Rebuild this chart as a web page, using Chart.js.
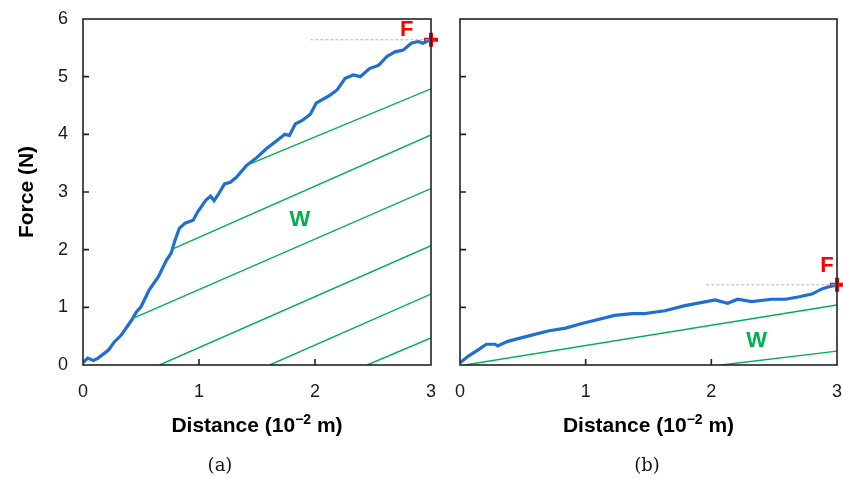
<!DOCTYPE html>
<html>
<head>
<meta charset="utf-8">
<script src="https://cdn.jsdelivr.net/npm/chart.js@4.4.1/dist/chart.umd.min.js"></script>
<style>
  body { margin: 0; background: #fff; }
  #wrap { position: relative; width: 843px; height: 479px; }
  #chartA { position: absolute; left: 0; top: 0; }
  #chartB { position: absolute; left: 440px; top: 0; }
</style>
</head>
<body>
<div id="wrap">
  <canvas id="chartA" width="440" height="479"></canvas>
  <canvas id="chartB" width="403" height="479"></canvas>
</div>
<script>
// panel (a): force vs distance
const distA = [0, 0.01, 0.04, 0.09, 0.13, 0.22, 0.27, 0.33, 0.42, 0.46, 0.50, 0.57, 0.65, 0.72, 0.76, 0.79, 0.83, 0.88, 0.92, 0.95, 0.99, 1.06, 1.10, 1.13, 1.17, 1.22, 1.27, 1.32, 1.41, 1.50, 1.58, 1.67, 1.74, 1.78, 1.83, 1.89, 1.96, 2.01, 2.13, 2.19, 2.26, 2.33, 2.39, 2.47, 2.55, 2.62, 2.69, 2.76, 2.83, 2.89, 2.93, 2.99];
const forceA = [0.04, 0.06, 0.12, 0.08, 0.12, 0.26, 0.40, 0.52, 0.78, 0.92, 1.01, 1.30, 1.53, 1.82, 1.94, 2.14, 2.37, 2.46, 2.49, 2.51, 2.66, 2.86, 2.93, 2.85, 2.97, 3.14, 3.17, 3.25, 3.46, 3.60, 3.75, 3.89, 4.00, 3.98, 4.18, 4.24, 4.35, 4.54, 4.68, 4.77, 4.97, 5.03, 5.00, 5.14, 5.20, 5.35, 5.43, 5.46, 5.58, 5.61, 5.58, 5.64];

// panel (b)
const distB = [0, 0.07, 0.15, 0.21, 0.28, 0.30, 0.38, 0.54, 0.70, 0.84, 0.97, 1.10, 1.23, 1.37, 1.47, 1.53, 1.63, 1.79, 1.96, 2.03, 2.13, 2.21, 2.32, 2.48, 2.59, 2.69, 2.80, 2.88, 2.94, 3.0];
const forceB = [0.04, 0.16, 0.27, 0.36, 0.36, 0.33, 0.41, 0.50, 0.59, 0.64, 0.72, 0.79, 0.86, 0.89, 0.89, 0.91, 0.94, 1.03, 1.10, 1.13, 1.07, 1.14, 1.10, 1.14, 1.14, 1.18, 1.23, 1.32, 1.36, 1.39];

// peak force F (x, y) and the dashed guide start
const peakA = [3.0, 5.64];
const peakB = [3.0, 1.39];
const guideStartA = 1.96;
const guideStartB = 1.96;

// hatch lines for the work area W: [x1, y1, x2, y2]
const hatchA = [
  [1.43, 3.48, 3.0, 4.79],
  [0.76, 2.00, 3.0, 3.99],
  [0.43, 0.81, 3.0, 3.06],
  [0.66, 0.00, 3.0, 2.07],
  [1.61, 0.00, 3.0, 1.23],
  [2.45, 0.00, 3.0, 0.47]
];
const hatchB = [
  [0.04, 0.00, 3.0, 1.04],
  [2.08, 0.00, 3.0, 0.24]
];

const xTicks = [0, 1, 2, 3];
const yTicks = [0, 1, 2, 3, 4, 5, 6];

const BLUE = '#1f6fd1';
const GREEN = '#00b050';
const RED = '#ff0000';

function toPoints(xs, ys) {
  return xs.map((x, i) => ({x: x, y: ys[i]}));
}

function buildDatasets(dist, force, hatch, peak, guideStart) {
  let sets = [];
  hatch.forEach(h => {
    sets.push({
      data: [{x: h[0], y: h[1]}, {x: h[2], y: h[3]}],
      borderColor: GREEN, borderWidth: 1.4, pointRadius: 0
    });
  });
  sets.push({
    data: [{x: guideStart, y: peak[1]}, {x: peak[0], y: peak[1]}],
    borderColor: '#b4b4b4', borderWidth: 1, borderDash: [3, 2], pointRadius: 0
  });
  sets.push({
    data: toPoints(dist, force),
    borderColor: BLUE, borderWidth: 3.2, pointRadius: 0, tension: 0
  });
  sets.push({
    data: [{x: peak[0], y: peak[1]}],
    showLine: false, pointStyle: 'cross', pointRadius: 7, clip: false,
    borderColor: RED, borderWidth: 4, backgroundColor: RED
  });
  return sets;
}

// frame + inward tick marks + F / W labels
const framePlugin = {
  id: 'frame',
  afterDraw(chart, args, opts) {
    const ctx = chart.ctx;
    const a = chart.chartArea;
    const xs = chart.scales.x, ys = chart.scales.y;
    ctx.save();
    ctx.strokeStyle = '#222';
    ctx.lineWidth = 1.6;
    ctx.strokeRect(a.left, a.top, a.right - a.left, a.bottom - a.top);
    ctx.beginPath();
    yTicks.slice(1, -1).forEach(v => {
      const y = ys.getPixelForValue(v);
      ctx.moveTo(a.left, y); ctx.lineTo(a.left + 6, y);
    });
    xTicks.slice(1, -1).forEach(v => {
      const x = xs.getPixelForValue(v);
      ctx.moveTo(x, a.bottom); ctx.lineTo(x, a.bottom - 6);
    });
    ctx.stroke();

    ctx.font = 'bold 22px "Liberation Sans", Arial, sans-serif';
    ctx.textAlign = 'center';
    ctx.textBaseline = 'middle';
    ctx.fillStyle = RED;
    ctx.fillText('F', xs.getPixelForValue(opts.fPos[0]), ys.getPixelForValue(opts.fPos[1]));
    ctx.fillStyle = GREEN;
    ctx.fillText('W', xs.getPixelForValue(opts.wPos[0]), ys.getPixelForValue(opts.wPos[1]));

    // x axis title with superscript
    const cx = (a.left + a.right) / 2;
    const ty = 426;
    ctx.fillStyle = '#000';
    ctx.textAlign = 'left';
    const big = 'bold 21px "Liberation Sans", Arial, sans-serif';
    const small = 'bold 14px "Liberation Sans", Arial, sans-serif';
    const p1 = 'Distance (10', p2 = '\u22122', p3 = ' m)';
    ctx.font = big;
    const w1 = ctx.measureText(p1).width, w3 = ctx.measureText(p3).width;
    ctx.font = small;
    const w2 = ctx.measureText(p2).width;
    let x = cx - (w1 + w2 + w3) / 2;
    ctx.font = big;
    ctx.fillText(p1, x, ty);
    ctx.font = small;
    ctx.fillText(p2, x + w1, ty - 6);
    ctx.font = big;
    ctx.fillText(p3, x + w1 + w2, ty);

    // caption
    ctx.textAlign = 'center';
    ctx.font = '18px "DejaVu Serif", "Liberation Serif", serif';
    ctx.fillStyle = '#111';
    ctx.fillText(opts.caption, opts.capX, 466);
    ctx.restore();
  }
};

function makeChart(id, datasets, yLabels, yWidth, padRight, extra) {
  return new Chart(document.getElementById(id), {
    type: 'line',
    data: { datasets: datasets },
    plugins: [framePlugin],
    options: {
      responsive: false,
      animation: false,
      layout: { autoPadding: false, padding: { top: 19, right: padRight, left: 0, bottom: 0 } },
      plugins: {
        legend: { display: false },
        tooltip: { enabled: false },
        frame: extra
      },
      scales: {
        x: {
          type: 'linear', min: 0, max: 3,
          afterFit: s => { s.height = 114; s.paddingLeft = 0; s.paddingRight = 0; },
          afterBuildTicks: s => { s.ticks = xTicks.map(v => ({value: v})); },
          grid: { display: false, drawTicks: false },
          border: { display: false },
          ticks: {
            padding: 16, color: '#1a1a1a', maxRotation: 0,
            font: { family: '"Liberation Sans", Arial, sans-serif', size: 18 }
          }
        },
        y: {
          type: 'linear', min: 0, max: 6,
          afterFit: s => { s.width = yWidth; s.paddingTop = 0; s.paddingBottom = 0; },
          afterBuildTicks: s => { s.ticks = yTicks.map(v => ({value: v})); },
          grid: { display: false, drawTicks: false },
          border: { display: false },
          title: {
            display: yLabels, text: 'Force (N)', color: '#000',
            font: { family: '"Liberation Sans", Arial, sans-serif', size: 21, weight: 'bold' },
            padding: { top: 15, bottom: 0 }
          },
          ticks: {
            display: yLabels, padding: 15, color: '#1a1a1a',
            font: { family: '"Liberation Sans", Arial, sans-serif', size: 18 }
          }
        }
      }
    }
  });
}

makeChart('chartA', buildDatasets(distA, forceA, hatchA, peakA, guideStartA), true, 83, 9,
  { fPos: [2.79, 5.81], wPos: [1.87, 2.51], caption: '(a)', capX: 220 });
makeChart('chartB', buildDatasets(distB, forceB, hatchB, peakB, guideStartB), false, 20, 6,
  { fPos: [2.92, 1.72], wPos: [2.36, 0.42], caption: '(b)', capX: 207 });
</script>
</body>
</html>
